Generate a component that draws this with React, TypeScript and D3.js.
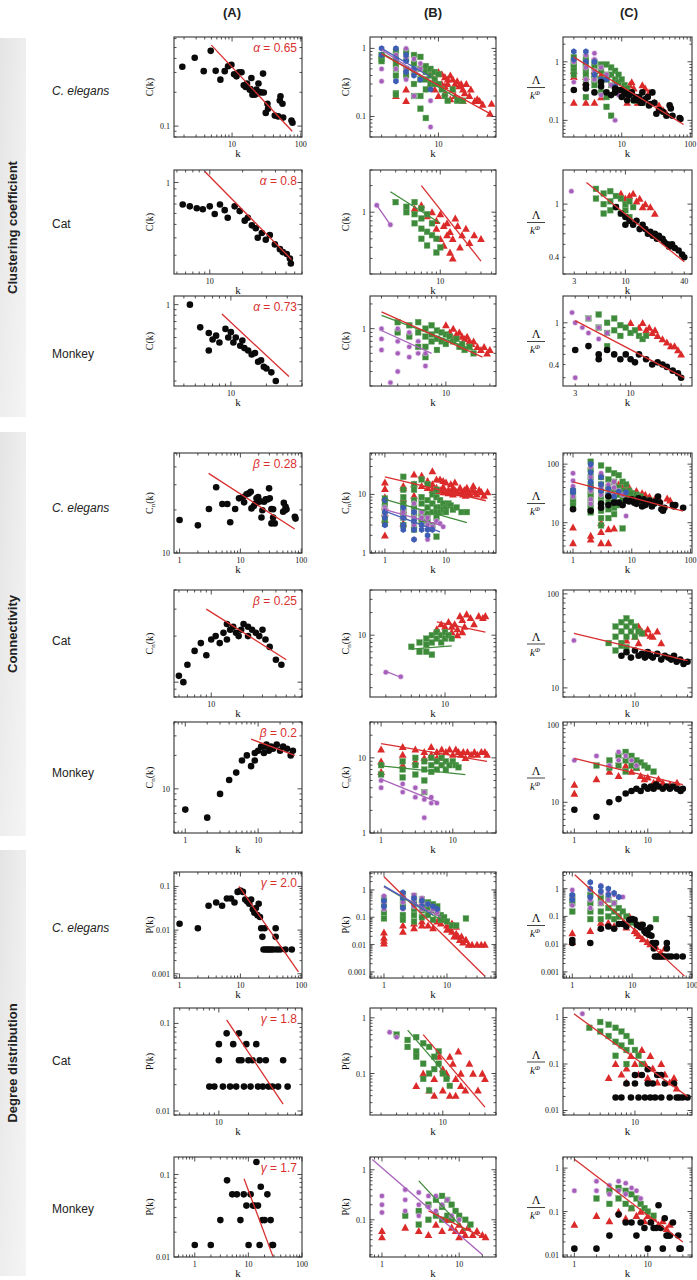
import React from 'react';
import * as d3 from 'd3';

type P = [number, number];

// ---------- Column headers / row labels ----------
const colHeaders = ['(A)', '(B)', '(C)'];
const sectionLabels = ['Clustering coefficient', 'Connectivity', 'Degree distribution'];
const speciesLabels = ['C. elegans', 'Cat', 'Monkey'];

// ---------- Row 1: clustering, C. elegans ----------
const r1A_black: P[] = [[1.89,0.337],[2.86,0.405],[3.87,0.308],[4.89,0.467],[5.78,0.31],[6.76,0.259],[7.82,0.308],[8.75,0.341],[9.78,0.351],[10.7,0.289],[11.6,0.277],[12.6,0.301],[13.7,0.301],[14.8,0.231],[15.8,0.223],[16.5,0.239],[18.1,0.211],[18.5,0.214],[19.1,0.268],[19.8,0.19],[20.2,0.197],[21.4,0.19],[22.6,0.211],[23.1,0.195],[24.2,0.239],[25.3,0.201],[26.7,0.199],[28.2,0.293],[28.9,0.199],[30.9,0.131],[32.7,0.158],[33.4,0.143],[41.8,0.124],[46.8,0.122],[49.4,0.169],[50.6,0.184],[54.1,0.158],[55.3,0.119],[73.1,0.112],[75.7,0.107]];
const r1A_fit: P[] = [[5,0.525],[75,0.09]];

const r1B_red: P[] = [[3,0.2],[4,0.25],[4,0.17],[6,0.55],[7,0.5],[8,0.42],[9,0.35],[9,0.25],[10,0.45],[10,0.2],[11,0.42],[11,0.3],[12,0.28],[12,0.38],[12,0.22],[13,0.3],[13,0.35],[14,0.4],[14,0.18],[15,0.35],[15,0.25],[16,0.3],[16,0.2],[17,0.33],[18,0.28],[18,0.18],[19,0.3],[20,0.25],[20,0.17],[21,0.22],[22,0.3],[24,0.2],[25,0.25],[28,0.17],[30,0.18],[32,0.17],[35,0.15],[43,0.11],[45,0.155],[8,0.3]];
const r1B_green: P[] = [[2,0.8],[2,0.7],[2,0.65],[3,0.9],[3,0.8],[3,0.7],[3,0.6],[3,0.5],[3,0.4],[3,0.22],[3,0.21],[4,0.9],[4,0.7],[4,0.5],[4,0.4],[5,0.8],[5,0.6],[5,0.45],[5,0.3],[5,0.2],[6,0.75],[6,0.5],[6,0.35],[6,0.2],[6,0.13],[7,0.55],[7,0.45],[7,0.35],[7,0.25],[7,0.095],[8,0.5],[8,0.4],[8,0.3],[9,0.45],[9,0.35],[9,0.3],[10,0.42],[10,0.3],[11,0.25],[12,0.2],[13,0.17],[15,0.25],[17,0.17],[20,0.17]];
const r1B_purple: P[] = [[2,0.33],[2,0.5],[3,0.8],[3,0.5],[4,1.0],[4,0.75],[4,0.5],[4,0.35],[5,0.2],[5,0.7],[5,0.45],[6,0.5],[6,0.6],[8,0.17],[8,0.07]];
const r1B_blue: P[] = [[2,1.0],[2,0.8],[3,1.0],[3,0.7],[3,0.33],[4,0.8],[4,0.65],[4,0.45],[5,0.5],[5,0.4],[6,0.35],[8,0.25]];
const r1B_fitRed: P[] = [[2,0.83],[43,0.11]];
const r1B_fitGreen: P[] = [[2,0.86],[21,0.16]];
const r1B_fitPurple: P[] = [[2,0.95],[9,0.3]];
const r1B_fitBlue: P[] = [[2,1.0],[8,0.38]];

const r1C_black: P[] = [[2,0.33],[3,0.4],[3,0.35],[4,0.3],[5,0.45],[5,0.38],[6,0.3],[7,0.27],[8,0.3],[8,0.35],[9,0.33],[10,0.33],[10,0.25],[11,0.3],[12,0.28],[12,0.22],[13,0.27],[14,0.3],[15,0.22],[16,0.25],[17,0.22],[18,0.25],[19,0.2],[20,0.2],[20,0.3],[22,0.23],[24,0.25],[25,0.18],[26,0.19],[28,0.3],[30,0.2],[32,0.13],[35,0.15],[40,0.14],[45,0.12],[50,0.18],[52,0.16],[55,0.12],[70,0.11],[72,0.105]];
const r1C_red: P[] = [[2,0.2],[2,0.55],[2,0.7],[3,0.55],[3,0.45],[3,0.2],[4,0.7],[4,0.2],[5,0.6],[5,0.25],[8,0.4],[9,0.3],[10,0.28],[12,0.3],[12,0.2],[13,0.4],[14,0.45],[15,0.35],[16,0.25],[17,0.2],[18,0.2],[20,0.4],[22,0.35],[25,0.3],[30,0.2],[35,0.18],[40,0.15],[45,0.13]];
const r1C_green: P[] = [[2,1.2],[2,1.0],[2,0.9],[2,0.8],[2,0.7],[2,0.6],[3,1.2],[3,1.0],[3,0.9],[3,0.8],[3,0.7],[3,0.6],[3,0.5],[3,0.25],[4,1.0],[4,0.8],[4,0.6],[4,0.5],[4,0.4],[5,0.9],[5,0.7],[5,0.5],[5,0.3],[6,0.9],[6,0.6],[6,0.5],[6,0.25],[6,0.17],[7,0.8],[7,0.6],[7,0.4],[7,0.12],[8,0.7],[8,0.5],[8,0.3],[9,0.6],[9,0.45],[10,0.5],[11,0.4],[12,0.35],[14,0.3],[15,0.22],[17,0.22],[20,0.2]];
const r1C_blue: P[] = [[2,1.5],[2,1.1],[3,1.5],[3,1.0],[4,1.0],[4,0.6],[5,0.5],[6,0.5],[8,0.38]];
const r1C_purple: P[] = [[2,1.0],[2,0.45],[3,1.3],[3,0.8],[3,0.5],[4,1.4],[4,1.1],[4,0.7],[4,0.5],[5,0.8],[5,0.27],[6,0.6],[7,0.4],[8,0.1],[9,0.27]];
const r1C_fit: P[] = [[2,1.2],[80,0.085]];

// ---------- Row 2: clustering, Cat ----------
const r2A_black: P[] = [[5.65,0.695],[6.56,0.674],[7.6,0.653],[8.63,0.643],[10,0.674],[11.1,0.594],[12.4,0.695],[13.7,0.633],[14.6,0.558],[16.9,0.674],[18.8,0.623],[20.9,0.532],[22.3,0.558],[24.3,0.492],[26.4,0.469],[27.5,0.401],[30,0.434],[32.6,0.388],[35.5,0.42],[39.5,0.359],[43.9,0.332],[46.7,0.316],[50.8,0.306],[54.2,0.284],[55.3,0.262]];
const r2A_fit: P[] = [[9,1.2],[56,0.28]];

const r2B_purple: P[] = [[1.8,1.2],[2.6,0.72]];
const r2B_green: P[] = [[3,1.3],[4,1.0],[4,1.15],[5,1.3],[5,0.95],[5,0.75],[6,1.1],[6,0.85],[6,0.65],[6,0.5],[7,0.95],[7,0.6],[7,0.42],[8,0.75],[8,0.55],[9,0.5],[9,0.35],[10,0.4]];
const r2B_red: P[] = [[5,1.1],[6,1.2],[7,0.9],[8,1.0],[9,0.8],[9,0.65],[10,0.95],[10,0.5],[11,0.7],[11,0.42],[12,0.75],[12,0.55],[13,0.6],[13,0.35],[14,0.5],[14,0.3],[15,0.85],[16,0.7],[17,0.4],[18,0.55],[20,0.65],[22,0.45],[25,0.55],[30,0.5]];
const r2B_fitPurple: P[] = [[1.8,1.2],[2.6,0.72]];
const r2B_fitGreen: P[] = [[2.6,1.7],[10,0.75]];
const r2B_fitRed: P[] = [[6,2.0],[30,0.28]];

const r2C_purple: P[] = [[2.8,1.25]];
const r2C_green: P[] = [[5,1.3],[5,1.1],[6,1.2],[6,1.0],[6,0.85],[7,1.25],[7,1.05],[7,0.9],[8,1.15],[8,0.95],[9,1.1],[9,0.85],[10,1.0],[10,0.9],[11,1.05],[11,0.8],[12,0.95]];
const r2C_red: P[] = [[9,1.2],[10,1.1],[11,1.15],[12,1.2],[13,1.05],[14,1.1],[15,0.95],[16,1.0],[18,0.95],[20,0.85]];
const r2C_black: P[] = [[8,0.95],[9,0.85],[10,0.8],[10,0.7],[11,0.75],[12,0.7],[13,0.75],[14,0.65],[15,0.7],[16,0.65],[17,0.6],[18,0.62],[19,0.58],[20,0.6],[21,0.55],[22,0.58],[24,0.55],[25,0.52],[27,0.5],[28,0.48],[30,0.5],[32,0.47],[35,0.45],[38,0.42],[40,0.4]];
const r2C_fit: P[] = [[4,1.45],[40,0.37]];

// ---------- Row 3: clustering, Monkey ----------
const r3A_black: P[] = [[4.5,1.0],[5.5,0.62],[6.5,0.55],[6.5,0.38],[7,0.48],[7.5,0.52],[8,0.45],[9,0.6],[9.5,0.5],[10,0.56],[10.5,0.45],[11,0.5],[12,0.42],[12.5,0.47],[13,0.4],[14,0.38],[15,0.35],[16,0.36],[17,0.3],[18,0.31],[19,0.27],[20,0.26],[22,0.24],[24,0.2]];
const r3A_fit: P[] = [[8.4,0.82],[31,0.22]];

const r3B_purple: P[] = [[2,1.0],[2,0.75],[2,0.55],[3,1.0],[3,0.7],[3,0.5],[3,0.3],[4,0.9],[4,0.6],[4,0.45],[5,0.7],[5,0.5],[6,0.5],[6,0.35],[2.5,0.22]];
const r3B_green: P[] = [[3,1.2],[3,0.9],[4,1.1],[4,0.8],[5,1.2],[5,0.9],[5,0.6],[6,1.0],[6,0.8],[6,0.6],[6,0.45],[7,1.1],[7,0.85],[7,0.7],[8,0.95],[8,0.75],[8,0.55],[9,0.9],[9,0.7],[10,0.85],[10,0.65],[11,0.8],[12,0.7],[13,0.75],[14,0.6],[15,0.65],[16,0.55],[18,0.6],[20,0.5]];
const r3B_red: P[] = [[10,1.1],[11,0.9],[12,1.0],[12,0.75],[13,0.85],[14,0.9],[15,0.8],[15,0.6],[16,0.75],[17,0.8],[18,0.7],[19,0.65],[20,0.7],[22,0.6],[24,0.55],[26,0.6],[28,0.5],[30,0.55]];
const r3B_fitRed: P[] = [[2,1.6],[25,0.45]];
const r3B_fitGreen: P[] = [[2,1.45],[20,0.55]];
const r3B_fitPurple: P[] = [[2,0.95],[7,0.5]];

const r3C_purple: P[] = [[2.8,1.25],[3,1.0],[3.5,0.9],[4,1.1],[4,0.8],[5,0.9],[5,0.7],[6,0.8],[3,0.3]];
const r3C_green: P[] = [[4,1.1],[5,1.2],[5,0.9],[6,1.0],[6,0.8],[6,0.6],[7,1.1],[7,0.85],[8,0.95],[8,0.75],[9,0.9],[10,0.8],[11,0.85],[12,0.75],[13,0.7],[14,0.75]];
const r3C_red: P[] = [[10,1.0],[12,0.9],[13,1.0],[14,0.85],[15,0.9],[16,0.8],[17,0.85],[18,0.75],[20,0.7],[22,0.65],[24,0.6],[26,0.6],[28,0.55],[30,0.5]];
const r3C_black: P[] = [[3,0.55],[4,0.6],[5,0.5],[5,0.45],[6,0.55],[7,0.5],[8,0.45],[9,0.5],[10,0.45],[11,0.42],[12,0.5],[14,0.45],[16,0.4],[18,0.42],[20,0.4],[22,0.38],[25,0.35],[28,0.33],[30,0.3]];
const r3C_fit: P[] = [[3,1.05],[32,0.3]];

// ---------- Row 4: connectivity, C. elegans ----------
const r4A_black: P[] = [[1,17],[2,15.6],[3.04,20.3],[4,28.8],[5.05,22],[6.1,22],[6.8,16.4],[8.2,20.3],[9.5,24.1],[11,24.6],[11.5,22.6],[12.6,25.7],[13.7,26.1],[14.8,26.8],[15.2,20.5],[16.6,21.3],[17.7,22.2],[18.4,24.1],[19.6,24.6],[20,22.8],[21.3,23],[22.2,17.7],[23,19.9],[24.5,22.8],[26.1,23.7],[27.8,23.7],[29.6,28.3],[30.4,24.1],[32.4,20.3],[34.5,20.2],[32.4,16.1],[34.5,17.7],[36.7,16.1],[50.4,19.4],[51.8,22.4],[54,19.9],[55.3,21],[57.3,20.2],[78.6,17.9],[80.6,17.4]];
const r4A_fit: P[] = [[3,36],[78,14.7]];

const r4B_red: P[] = [[1,16],[1,12.5],[1,9],[1,6.2],[1,4.8],[1,3.7],[1,2],[2,14],[2,13],[2,8.5],[2,5.4],[2,4.3],[2,3.2],[3,22],[3,15],[3,9.5],[4,21],[4,14],[5,17],[5,13],[6,25],[6,15],[6,12],[7,18],[7,13],[7,11.5],[8,18],[8,12],[9,17],[9,13.5],[9,11],[10,16],[10,11],[11,12],[11,10.5],[12,15],[12,11],[13,13],[13,10],[14,12],[14,16],[15,11],[16,10.5],[17,13],[18,11],[19,10],[20,12],[21,9.5],[22,13],[23,11],[25,10],[27,12],[28,14],[30,11],[32,10],[35,12],[38,11],[42,9.5],[48,11]];
const r4B_green: P[] = [[1,8.5],[1,7],[1,6],[1,5.5],[1,4.5],[1,3.8],[1,3.2],[2,20],[2,12],[2,9],[2,7],[2,6],[2,5],[2,4],[2,3],[3,15],[3,12],[3,8],[3,6],[3,5],[3,4],[3,3],[3,2.5],[4,18],[4,9],[4,7],[4,5],[4,4],[4,3.5],[5,15],[5,8],[5,6],[5,4.5],[5,3.5],[6,10],[6,7],[6,5],[6,3],[7,12],[7,9],[7,6],[7,5],[7,4],[7,1.9],[8,8],[8,6],[8,5],[9,7],[9,5.5],[10,6],[10,5],[11,7],[12,6.5],[13,5.5],[15,6],[18,5],[22,5]];
const r4B_purple: P[] = [[1,6],[1,5.5],[1,4.5],[2,6],[2,5],[2,4],[3,7],[3,5],[3,4],[3,3],[3,1.7],[4,5],[4,4],[4,3],[5,4],[5,3],[5,1.7],[6,2.8],[7,3.5],[8,3.2],[9,2.8]];
const r4B_blue: P[] = [[1,8],[1,5],[1,4],[1,3],[2,6],[2,4],[2,3],[2,2.5],[3,5],[3,3.5],[3,2.5],[3,1.7],[4,3],[4,2.5],[5,2.5],[5,2],[6,2.5]];
const r4B_fitRed: P[] = [[1,20],[45,7.8]];
const r4B_fitGreen: P[] = [[1,8.2],[22,3.3]];
const r4B_fitPurple: P[] = [[1,5.5],[9,2.9]];
const r4B_fitBlue: P[] = [[1,5.2],[8,2.3]];

const r4C_black: P[] = [[1,17],[2,16],[3,21],[3,18],[4,28],[4,20],[5,22],[6,22],[7,20],[8,24],[9,23],[10,25],[11,22],[12,21],[13,26],[14,24],[15,19],[16,25],[17,20],[18,22],[20,24],[22,19],[24,21],[25,23],[28,28],[30,22],[32,17],[34,16],[36,18],[50,20],[52,19],[55,20],[75,18]];
const r4C_red: P[] = [[1,8.3],[1,4.5],[2,6],[2,5.2],[3,10],[3,7],[3,4.5],[4,7.8],[4,4.5],[5,8],[6,45],[6,35],[7,40],[8,38],[8,32],[9,40],[10,30],[12,35],[15,32],[17,30],[20,28],[25,26],[30,24],[40,26],[45,24]];
const r4C_green: P[] = [[1,35],[1,30],[1,25],[1,22],[1,20],[2,110],[2,80],[2,60],[2,45],[2,35],[2,28],[2,22],[2,18],[2,15],[3,95],[3,60],[3,45],[3,35],[3,28],[3,22],[3,16],[3,12],[3,9],[4,80],[4,55],[4,40],[4,30],[4,22],[4,17],[4,12],[5,70],[5,50],[5,35],[5,25],[5,18],[5,14],[6,65],[6,40],[6,30],[6,20],[7,50],[7,35],[7,25],[7,8],[8,45],[8,30],[9,35],[10,32],[12,30],[14,28],[16,25],[20,24]];
const r4C_blue: P[] = [[1,36],[1,33],[2,100],[2,72],[2,50],[2,40],[3,60],[3,45],[3,35],[4,38],[4,30],[5,28],[6,34],[8,33]];
const r4C_purple: P[] = [[1,70],[1,52],[1,42],[1,28],[2,90],[2,60],[2,35],[2,25],[2,21],[3,70],[3,40],[3,30],[3,20],[4,45],[4,30],[4,20],[5,50],[5,40],[5,30],[6,35],[7,30],[8,13]];
const r4C_fit: P[] = [[1,50],[75,15.7]];

// ---------- Row 5: connectivity, Cat ----------
const r5A_black: P[] = [[5,11],[5.5,10],[6,13],[7,16],[8,18],[9,15],[10,19],[11,20],[12,18],[13,21],[14,24],[14,19],[15,22],[16,23],[17,21],[18,20],[19,22],[20,24],[22,23],[22,20],[24,22],[26,21],[28,20],[30,22],[32,19],[35,17],[40,14],[45,13]];
const r5A_fit: P[] = [[9,30],[50,14]];

const r5B_purple: P[] = [[2,3.2],[3,2.8]];
const r5B_green: P[] = [[4,7],[5,8],[5,6],[6,9],[6,7.5],[6,6],[7,10],[7,8],[7,5.5],[8,11],[8,9],[9,10],[9,8],[10,11],[10,9],[11,10],[12,9]];
const r5B_red: P[] = [[8,12],[9,14],[10,13],[10,11],[11,15],[12,13],[12,11],[13,14],[14,12],[14,10],[15,18],[16,16],[16,11],[17,13],[18,19],[20,17],[22,14],[25,18],[28,17],[30,18]];
const r5B_fitPurple: P[] = [[2,3.3],[3,2.75]];
const r5B_fitGreen: P[] = [[4,6.5],[12,7.2]];
const r5B_fitRed: P[] = [[8,15],[30,11]];

const r5C_purple: P[] = [[2,32]];
const r5C_green: P[] = [[5,30],[6,45],[6,35],[6,25],[7,50],[7,40],[7,30],[7,28],[8,55],[8,45],[8,35],[8,27],[9,50],[9,40],[10,45],[10,35],[11,40],[12,38]];
const r5C_red: P[] = [[8,32],[10,35],[11,45],[11,30],[12,40],[13,38],[14,42],[15,36],[16,35],[18,40],[20,30]];
const r5C_black: P[] = [[7,22],[8,24],[9,21],[10,25],[11,22],[12,23],[13,21],[14,24],[15,22],[16,21],[18,23],[20,20],[22,22],[24,21],[26,20],[28,22],[30,19],[33,20],[36,18],[40,19]];
const r5C_fit: P[] = [[2,38],[40,19.5]];

// ---------- Row 6: connectivity, Monkey ----------
const r6A_black: P[] = [[1,6.5],[2,5.5],[3,9],[4,12],[5,14],[6,18],[7,20],[8,16],[9,21],[9,18],[10,22],[11,24],[12,21],[12,24],[13,25],[14,22],[15,24],[16,23],[18,25],[20,22],[22,24],[25,23],[28,20],[30,22]];
const r6A_fit: P[] = [[8,28],[32,20]];

const r6B_red: P[] = [[1,13],[1,9],[1,6.5],[2,14],[2,11],[2,8],[3,13],[3,9],[4,12],[4,10],[5,14],[5,11],[6,12],[6,10],[7,13],[7,10],[8,12],[9,13],[10,11],[11,13],[12,12],[13,11],[14,12],[15,10],[16,12],[18,11],[20,12],[22,11],[25,12],[28,12],[30,11]];
const r6B_green: P[] = [[1,8],[1,6],[2,9],[2,7],[2,5.5],[3,10],[3,8],[3,6],[4,9],[4,7],[4,5],[4,3.5],[5,10],[5,8],[5,6.5],[6,9],[6,7],[7,10],[7,8],[8,9],[8,7],[9,8],[10,9],[11,8],[12,7.5]];
const r6B_purple: P[] = [[1,5],[1,4],[2,4.5],[2,3.5],[3,4],[3,3],[4,3.5],[4,2.8],[4,1.6],[5,3],[5,2.5],[6,2.5]];
const r6B_fitRed: P[] = [[1,15.5],[30,9]];
const r6B_fitGreen: P[] = [[1,7.8],[15,6]];
const r6B_fitPurple: P[] = [[1,5.2],[6,2.6]];

const r6C_black: P[] = [[1,8],[2,6.5],[3,10],[4,11],[5,13],[6,14],[7,15],[8,14],[9,16],[10,15],[11,16],[12,15],[13,17],[14,16],[16,15],[18,16],[20,15],[22,16],[25,15],[28,14],[30,15]];
const r6C_red: P[] = [[1,13],[1,17],[2,20],[3,25],[4,22],[5,30],[6,25],[7,28],[8,22],[9,20],[10,21],[12,18],[14,20],[16,18],[20,17],[25,18]];
const r6C_green: P[] = [[2,30],[3,28],[3,35],[4,40],[4,30],[5,45],[5,35],[5,25],[6,40],[6,30],[7,35],[7,28],[8,33],[9,30],[10,28],[12,25]];
const r6C_purple: P[] = [[1,35],[2,40],[3,30],[4,45],[4,35],[5,40],[6,35],[7,30]];
const r6C_fit: P[] = [[1,37],[30,17]];

// ---------- Row 7: degree distribution, C. elegans ----------
const r7A_black: P[] = [[1,0.014],[2,0.011],[3,0.036],[4,0.043],[5,0.036],[6,0.053],[7,0.053],[8,0.043],[9,0.075],[10,0.08],[11,0.075],[12,0.05],[13,0.045],[14,0.04],[15,0.05],[16,0.03],[17,0.025],[18,0.032],[19,0.022],[20,0.04],[21,0.02],[22,0.011],[23,0.007],[25,0.011],[24,0.0036],[26,0.0036],[28,0.0036],[30,0.0036],[32,0.0036],[35,0.0036],[38,0.011],[38,0.007],[40,0.0036],[45,0.0036],[55,0.0036],[70,0.0036]];
const r7A_fit: P[] = [[9.5,0.1],[90,0.0011]];

const r7B_red: P[] = [[1,0.028],[1,0.018],[1,0.014],[1,0.011],[2,0.05],[2,0.03],[3,0.06],[3,0.04],[4,0.07],[4,0.05],[5,0.05],[6,0.04],[7,0.07],[8,0.1],[8,0.06],[9,0.08],[10,0.05],[10,0.035],[11,0.04],[12,0.06],[12,0.03],[13,0.02],[14,0.045],[14,0.025],[15,0.02],[16,0.015],[17,0.02],[18,0.012],[20,0.015],[22,0.01],[25,0.01],[30,0.01],[35,0.01],[40,0.01]];
const r7B_green: P[] = [[1,0.5],[1,0.3],[1,0.15],[1,0.09],[2,0.7],[2,0.4],[2,0.25],[2,0.12],[2,0.08],[3,0.6],[3,0.35],[3,0.2],[3,0.12],[3,0.07],[4,0.45],[4,0.3],[4,0.18],[4,0.1],[5,0.35],[5,0.22],[5,0.12],[6,0.3],[6,0.18],[6,0.08],[7,0.25],[7,0.15],[8,0.12],[8,0.08],[9,0.1],[10,0.07],[12,0.05],[14,0.05],[20,0.09]];
const r7B_purple: P[] = [[1,0.6],[1,0.35],[1,0.2],[2,0.6],[2,0.35],[2,0.2],[3,0.65],[3,0.45],[3,0.25],[4,0.5],[4,0.35],[4,0.2],[5,0.3],[6,0.2],[7,0.15]];
const r7B_blue: P[] = [[1,0.4],[1,0.25],[2,0.8],[2,0.5],[2,0.22],[3,0.5],[3,0.3],[4,0.4],[4,0.25],[5,0.3],[6,0.25],[7,0.2]];
const r7B_fitRed: P[] = [[1,3.0],[40,0.0007]];
const r7B_fitGreen: P[] = [[1,1.3],[10,0.06]];
const r7B_fitPurple: P[] = [[1,1.3],[8,0.1]];
const r7B_fitBlue: P[] = [[1,1.4],[6,0.12]];

const r7C_black: P[] = [[1,0.014],[1,0.011],[2,0.011],[3,0.036],[4,0.043],[5,0.036],[6,0.053],[7,0.053],[8,0.043],[9,0.075],[10,0.08],[11,0.075],[12,0.05],[13,0.045],[14,0.04],[15,0.05],[16,0.03],[17,0.025],[18,0.032],[19,0.022],[20,0.04],[21,0.02],[22,0.011],[23,0.007],[25,0.011],[24,0.0036],[26,0.0036],[28,0.0036],[30,0.0036],[32,0.0036],[35,0.0036],[38,0.011],[38,0.007],[40,0.0036],[45,0.0036],[55,0.0036],[70,0.0036]];
const r7C_red: P[] = [[1,0.025],[1,0.012],[2,0.03],[3,0.06],[3,0.04],[4,0.06],[5,0.045],[6,0.1],[7,0.06],[8,0.04],[9,0.1],[10,0.07],[11,0.03],[12,0.025],[13,0.02],[14,0.05],[15,0.015],[18,0.012],[20,0.01],[25,0.008],[30,0.005],[35,0.007]];
const r7C_green: P[] = [[1,0.5],[1,0.3],[1,0.15],[2,0.6],[2,0.3],[2,0.15],[2,0.08],[3,0.5],[3,0.3],[3,0.15],[3,0.08],[4,0.4],[4,0.2],[4,0.1],[5,0.3],[5,0.15],[5,0.08],[6,0.2],[6,0.1],[7,0.15],[8,0.1],[9,0.08],[10,0.06],[12,0.05],[25,0.08]];
const r7C_purple: P[] = [[1,0.9],[1,0.5],[1,0.25],[2,0.9],[2,0.4],[2,0.2],[3,1.3],[3,0.7],[3,0.3],[4,0.7],[4,0.4],[5,0.6],[5,0.3],[6,0.5],[7,0.5]];
const r7C_blue: P[] = [[1,0.6],[1,0.4],[2,1.7],[2,1.0],[2,0.5],[3,1.2],[3,0.8],[4,1.0],[4,0.6],[5,0.7],[6,0.5]];
const r7C_fit: P[] = [[1.1,3.2],[75,0.0007]];

// ---------- Row 8: degree distribution, Cat ----------
const r8A_black: P[] = [[8,0.019],[9,0.019],[10,0.038],[10,0.058],[11,0.019],[12,0.077],[13,0.019],[14,0.058],[15,0.019],[16,0.077],[16,0.038],[17,0.038],[18,0.019],[19,0.058],[20,0.038],[21,0.019],[22,0.038],[24,0.058],[25,0.019],[26,0.038],[28,0.019],[30,0.038],[32,0.019],[35,0.019],[40,0.019],[45,0.038],[50,0.019]];
const r8A_fit: P[] = [[12,0.11],[45,0.012]];

const r8B_purple: P[] = [[2.5,0.55],[3,0.45]];
const r8B_green: P[] = [[3,0.5],[4,0.4],[4,0.3],[5,0.45],[5,0.25],[5,0.2],[6,0.35],[6,0.15],[6,0.08],[7,0.3],[7,0.1],[7,0.05],[8,0.2],[8,0.12],[9,0.25],[9,0.15],[10,0.1],[11,0.08],[12,0.06]];
const r8B_red: P[] = [[5,0.06],[6,0.1],[7,0.05],[8,0.08],[8,0.04],[9,0.2],[10,0.12],[10,0.05],[11,0.1],[12,0.2],[12,0.04],[13,0.15],[14,0.08],[14,0.04],[15,0.25],[16,0.1],[16,0.06],[18,0.05],[20,0.15],[22,0.1],[25,0.05],[28,0.1],[30,0.08]];
const r8B_fitGreen: P[] = [[4,0.6],[12,0.08]];
const r8B_fitRed: P[] = [[6,0.5],[30,0.025]];

const r8C_purple: P[] = [[2.5,1.2]];
const r8C_black: P[] = [[6,0.019],[7,0.019],[8,0.038],[9,0.019],[10,0.038],[10,0.058],[11,0.019],[12,0.058],[13,0.019],[14,0.038],[14,0.077],[15,0.019],[16,0.038],[17,0.019],[18,0.058],[20,0.019],[20,0.058],[22,0.038],[25,0.019],[28,0.038],[30,0.019],[32,0.019],[35,0.019],[40,0.019]];
const r8C_green: P[] = [[3,0.6],[4,0.8],[4,0.5],[5,0.7],[5,0.4],[6,0.6],[6,0.3],[6,0.15],[7,0.5],[7,0.25],[8,0.4],[8,0.2],[8,0.1],[9,0.3],[10,0.2],[11,0.15],[12,0.1]];
const r8C_red: P[] = [[5,0.05],[6,0.1],[7,0.06],[8,0.08],[8,0.04],[9,0.15],[10,0.1],[11,0.06],[12,0.2],[13,0.1],[14,0.05],[15,0.15],[16,0.08],[18,0.04],[20,0.1],[22,0.06],[25,0.04],[28,0.05],[30,0.03]];
const r8C_fit: P[] = [[2,1.2],[40,0.02]];

// ---------- Row 9: degree distribution, Monkey ----------
const r9A_black: P[] = [[1,0.014],[1.99,0.014],[3,0.028],[4,0.085],[5,0.0575],[6.1,0.0575],[7.1,0.028],[8.2,0.0575],[9.2,0.042],[10.1,0.014],[11,0.0575],[12.2,0.042],[13,0.042],[14.1,0.142],[15.1,0.042],[16.2,0.014],[17,0.071],[18.3,0.028],[20.1,0.028],[22.6,0.0575],[26,0.028],[28,0.014],[28.8,0.014]];
const r9A_fit: P[] = [[8.3,0.089],[28.8,0.0101]];

const r9B_purple: P[] = [[1,0.3],[1,0.2],[1,0.14],[2,0.4],[2,0.25],[2,0.15],[3,0.35],[3,0.2],[3,0.12],[4,0.3],[4,0.18],[5,0.3],[5,0.15],[6,0.2],[7,0.25],[8,0.12],[10,0.1]];
const r9B_green: P[] = [[2,0.12],[3,0.15],[3,0.08],[4,0.2],[4,0.1],[5,0.25],[5,0.12],[6,0.3],[6,0.18],[6,0.1],[7,0.25],[7,0.12],[8,0.2],[8,0.1],[9,0.15],[10,0.12],[12,0.1],[14,0.08]];
const r9B_red: P[] = [[1,0.06],[1,0.045],[2,0.07],[3,0.06],[4,0.05],[5,0.08],[6,0.06],[7,0.1],[8,0.07],[9,0.06],[10,0.08],[10,0.045],[11,0.06],[12,0.05],[13,0.07],[15,0.05],[17,0.06],[20,0.05],[22,0.045]];
const r9B_fitPurple: P[] = [[0.75,1.6],[20,0.02]];
const r9B_fitGreen: P[] = [[3,0.6],[12,0.06]];
const r9B_fitRed: P[] = [[4,0.15],[20,0.045]];

const r9C_black: P[] = [[1,0.014],[2,0.014],[3,0.028],[4,0.085],[5,0.056],[6,0.056],[7,0.028],[8,0.056],[9,0.042],[10,0.014],[11,0.056],[12,0.042],[13,0.042],[14,0.14],[15,0.042],[16,0.014],[17,0.07],[18,0.028],[19,0.028],[20,0.028],[22,0.056],[26,0.028],[27,0.014],[28,0.014]];
const r9C_purple: P[] = [[1,0.3],[2,0.5],[2,0.3],[3,0.4],[3,0.25],[4,0.5],[4,0.3],[5,0.45],[5,0.25],[6,0.35],[7,0.3],[8,0.2]];
const r9C_green: P[] = [[2,0.2],[3,0.3],[3,0.15],[4,0.35],[4,0.2],[5,0.3],[5,0.15],[6,0.25],[6,0.12],[7,0.2],[8,0.15],[9,0.12],[10,0.1],[12,0.08]];
const r9C_red: P[] = [[1,0.05],[2,0.08],[3,0.06],[4,0.1],[5,0.07],[6,0.12],[7,0.08],[8,0.1],[9,0.06],[10,0.08],[11,0.06],[12,0.07],[14,0.05],[16,0.06],[18,0.04],[20,0.05]];
const r9C_fit: P[] = [[1,1.6],[30,0.02]];

// ---------- styling ----------
const COLORS = {
  black: '#0a0a0a',
  red: '#dc2a2a',
  green: '#3e8a3b',
  blue: '#3c5db3',
  purple: '#a55fba',
};
const LINE = {
  red: '#d92f2f',
  green: '#3f8c3b',
  blue: '#4a62b8',
  purple: '#a862bb',
};

type Kind = 'black' | 'red' | 'green' | 'blue' | 'purple';
type Series = { kind: Kind; pts: P[] };
type Fit = { color: keyof typeof LINE; pts: P[] };
type Spec = {
  xd: [number, number];
  yd: [number, number];
  xl: number[];
  yl: number[];
  ylab: 'C' | 'Cn' | 'P' | 'L';
  note?: string;
  series: Series[];
  fits: Fit[];
};

const panels: Spec[][] = [
  [
    { xd: [1.43, 104], yd: [0.08, 0.62], xl: [10, 100], yl: [0.1], ylab: 'C', note: 'α = 0.65',
      series: [{ kind: 'black', pts: r1A_black }], fits: [{ color: 'red', pts: r1A_fit }] },
    { xd: [1.44, 51], yd: [0.05, 1.47], xl: [10], yl: [0.1, 1], ylab: 'C',
      series: [{ kind: 'red', pts: r1B_red }, { kind: 'green', pts: r1B_green }, { kind: 'purple', pts: r1B_purple }, { kind: 'blue', pts: r1B_blue }],
      fits: [{ color: 'blue', pts: r1B_fitBlue }, { color: 'purple', pts: r1B_fitPurple }, { color: 'green', pts: r1B_fitGreen }, { color: 'red', pts: r1B_fitRed }] },
    { xd: [1.39, 106], yd: [0.052, 2.65], xl: [10, 100], yl: [0.1, 1], ylab: 'L',
      series: [{ kind: 'red', pts: r1C_red }, { kind: 'green', pts: r1C_green }, { kind: 'purple', pts: r1C_purple }, { kind: 'blue', pts: r1C_blue }, { kind: 'black', pts: r1C_black }],
      fits: [{ color: 'red', pts: r1C_fit }] },
  ],
  [
    { xd: [4.7, 70], yd: [0.22, 1.23], xl: [10], yl: [1], ylab: 'C', note: 'α = 0.8',
      series: [{ kind: 'black', pts: r2A_black }], fits: [{ color: 'red', pts: r2A_fit }] },
    { xd: [1.5, 45], yd: [0.2, 3], xl: [10], yl: [1], ylab: 'C',
      series: [{ kind: 'red', pts: r2B_red }, { kind: 'green', pts: r2B_green }, { kind: 'purple', pts: r2B_purple }],
      fits: [{ color: 'purple', pts: r2B_fitPurple }, { color: 'green', pts: r2B_fitGreen }, { color: 'red', pts: r2B_fitRed }] },
    { xd: [2.3, 48], yd: [0.3, 1.8], xl: [3, 10, 40], yl: [0.4, 1], ylab: 'L',
      series: [{ kind: 'red', pts: r2C_red }, { kind: 'green', pts: r2C_green }, { kind: 'purple', pts: r2C_purple }, { kind: 'black', pts: r2C_black }],
      fits: [{ color: 'red', pts: r2C_fit }] },
  ],
  [
    { xd: [3.3, 40], yd: [0.18, 1.2], xl: [10], yl: [1], ylab: 'C', note: 'α = 0.73',
      series: [{ kind: 'black', pts: r3A_black }], fits: [{ color: 'red', pts: r3A_fit }] },
    { xd: [1.5, 35], yd: [0.2, 2.5], xl: [10], yl: [1], ylab: 'C',
      series: [{ kind: 'red', pts: r3B_red }, { kind: 'green', pts: r3B_green }, { kind: 'purple', pts: r3B_purple }],
      fits: [{ color: 'purple', pts: r3B_fitPurple }, { color: 'green', pts: r3B_fitGreen }, { color: 'red', pts: r3B_fitRed }] },
    { xd: [2.3, 38], yd: [0.25, 1.8], xl: [3, 10], yl: [0.4, 1], ylab: 'L',
      series: [{ kind: 'red', pts: r3C_red }, { kind: 'green', pts: r3C_green }, { kind: 'purple', pts: r3C_purple }, { kind: 'black', pts: r3C_black }],
      fits: [{ color: 'red', pts: r3C_fit }] },
  ],
  [
    { xd: [0.81, 103], yd: [10, 50], xl: [1, 10, 100], yl: [10], ylab: 'Cn', note: 'β = 0.28',
      series: [{ kind: 'black', pts: r4A_black }], fits: [{ color: 'red', pts: r4A_fit }] },
    { xd: [0.57, 66], yd: [1, 51], xl: [1, 10], yl: [1, 10], ylab: 'Cn',
      series: [{ kind: 'red', pts: r4B_red }, { kind: 'green', pts: r4B_green }, { kind: 'purple', pts: r4B_purple }, { kind: 'blue', pts: r4B_blue }],
      fits: [{ color: 'red', pts: r4B_fitRed }, { color: 'green', pts: r4B_fitGreen }, { color: 'purple', pts: r4B_fitPurple }, { color: 'blue', pts: r4B_fitBlue }] },
    { xd: [0.675, 106], yd: [3.04, 155], xl: [1, 10, 100], yl: [10, 100], ylab: 'L',
      series: [{ kind: 'red', pts: r4C_red }, { kind: 'green', pts: r4C_green }, { kind: 'purple', pts: r4C_purple }, { kind: 'blue', pts: r4C_blue }, { kind: 'black', pts: r4C_black }],
      fits: [{ color: 'red', pts: r4C_fit }] },
  ],
  [
    { xd: [4.5, 70], yd: [8, 40], xl: [10], yl: [], ylab: 'Cn', note: 'β = 0.25',
      series: [{ kind: 'black', pts: r5A_black }], fits: [{ color: 'red', pts: r5A_fit }] },
    { xd: [1.3, 40], yd: [1.5, 40], xl: [10], yl: [10], ylab: 'Cn',
      series: [{ kind: 'red', pts: r5B_red }, { kind: 'green', pts: r5B_green }, { kind: 'purple', pts: r5B_purple }],
      fits: [{ color: 'red', pts: r5B_fitRed }, { color: 'green', pts: r5B_fitGreen }, { color: 'purple', pts: r5B_fitPurple }] },
    { xd: [1.5, 45], yd: [8, 110], xl: [10], yl: [10, 100], ylab: 'L',
      series: [{ kind: 'red', pts: r5C_red }, { kind: 'green', pts: r5C_green }, { kind: 'purple', pts: r5C_purple }, { kind: 'black', pts: r5C_black }],
      fits: [{ color: 'red', pts: r5C_fit }] },
  ],
  [
    { xd: [0.7, 40], yd: [4, 40], xl: [1, 10], yl: [10], ylab: 'Cn', note: 'β = 0.2',
      series: [{ kind: 'black', pts: r6A_black }], fits: [{ color: 'red', pts: r6A_fit }] },
    { xd: [0.7, 40], yd: [1, 30], xl: [1, 10], yl: [1, 10], ylab: 'Cn',
      series: [{ kind: 'red', pts: r6B_red }, { kind: 'green', pts: r6B_green }, { kind: 'purple', pts: r6B_purple }],
      fits: [{ color: 'red', pts: r6B_fitRed }, { color: 'green', pts: r6B_fitGreen }, { color: 'purple', pts: r6B_fitPurple }] },
    { xd: [0.7, 40], yd: [4, 110], xl: [1, 10], yl: [10, 100], ylab: 'L',
      series: [{ kind: 'red', pts: r6C_red }, { kind: 'green', pts: r6C_green }, { kind: 'purple', pts: r6C_purple }, { kind: 'black', pts: r6C_black }],
      fits: [{ color: 'red', pts: r6C_fit }] },
  ],
  [
    { xd: [0.81, 103], yd: [0.0008, 0.214], xl: [1, 10, 100], yl: [0.001, 0.01, 0.1], ylab: 'P', note: 'γ = 2.0',
      series: [{ kind: 'black', pts: r7A_black }], fits: [{ color: 'red', pts: r7A_fit }] },
    { xd: [0.6, 60], yd: [0.0006, 4.5], xl: [1, 10], yl: [0.001, 0.01, 0.1, 1], ylab: 'P',
      series: [{ kind: 'red', pts: r7B_red }, { kind: 'green', pts: r7B_green }, { kind: 'purple', pts: r7B_purple }, { kind: 'blue', pts: r7B_blue }],
      fits: [{ color: 'red', pts: r7B_fitRed }, { color: 'green', pts: r7B_fitGreen }, { color: 'purple', pts: r7B_fitPurple }, { color: 'blue', pts: r7B_fitBlue }] },
    { xd: [0.7, 100], yd: [0.0006, 4], xl: [1, 10, 100], yl: [0.001, 0.01, 0.1, 1], ylab: 'L',
      series: [{ kind: 'red', pts: r7C_red }, { kind: 'green', pts: r7C_green }, { kind: 'purple', pts: r7C_purple }, { kind: 'blue', pts: r7C_blue }, { kind: 'black', pts: r7C_black }],
      fits: [{ color: 'red', pts: r7C_fit }] },
  ],
  [
    { xd: [3.5, 70], yd: [0.009, 0.15], xl: [10], yl: [0.01, 0.1], ylab: 'P', note: 'γ = 1.8',
      series: [{ kind: 'black', pts: r8A_black }], fits: [{ color: 'red', pts: r8A_fit }] },
    { xd: [1.5, 40], yd: [0.018, 1.5], xl: [10], yl: [0.1, 1], ylab: 'P',
      series: [{ kind: 'red', pts: r8B_red }, { kind: 'green', pts: r8B_green }, { kind: 'purple', pts: r8B_purple }],
      fits: [{ color: 'green', pts: r8B_fitGreen }, { color: 'red', pts: r8B_fitRed }] },
    { xd: [1.5, 45], yd: [0.008, 1.6], xl: [10], yl: [0.01, 0.1, 1], ylab: 'L',
      series: [{ kind: 'red', pts: r8C_red }, { kind: 'green', pts: r8C_green }, { kind: 'purple', pts: r8C_purple }, { kind: 'black', pts: r8C_black }],
      fits: [{ color: 'red', pts: r8C_fit }] },
  ],
  [
    { xd: [0.41, 100], yd: [0.01, 0.163], xl: [1, 10, 100], yl: [0.01, 0.1], ylab: 'P', note: 'γ = 1.7',
      series: [{ kind: 'black', pts: r9A_black }], fits: [{ color: 'red', pts: r9A_fit }] },
    { xd: [0.7, 30], yd: [0.018, 1.8], xl: [1, 10], yl: [0.1, 1], ylab: 'P',
      series: [{ kind: 'red', pts: r9B_red }, { kind: 'green', pts: r9B_green }, { kind: 'purple', pts: r9B_purple }],
      fits: [{ color: 'purple', pts: r9B_fitPurple }, { color: 'green', pts: r9B_fitGreen }, { color: 'red', pts: r9B_fitRed }] },
    { xd: [0.7, 40], yd: [0.009, 1.8], xl: [1, 10], yl: [0.01, 0.1, 1], ylab: 'L',
      series: [{ kind: 'red', pts: r9C_red }, { kind: 'green', pts: r9C_green }, { kind: 'purple', pts: r9C_purple }, { kind: 'black', pts: r9C_black }],
      fits: [{ color: 'red', pts: r9C_fit }] },
  ],
];

// ---------- layout ----------
const W = 697;
const H = 1280;
const COLS: [number, number][] = [[174, 302], [370, 496], [563, 692]];
const ROWS: [number, number][] = [[37, 137], [170, 274], [296, 386], [453, 553], [590, 697], [722, 833], [872, 978], [1008, 1115], [1157, 1257]];
const COL_CENTER = [232, 433, 629];
const SECTIONS: [number, number][] = [[38, 417], [432, 836], [850, 1276]];
const SPECIES_Y = [95, 228, 358, 512, 645, 777, 932, 1065, 1213];

const SERIF = '"Liberation Serif", "Times New Roman", serif';
const SANS = '"Liberation Sans", Arial, Helvetica, sans-serif';

function logTicks(lo: number, hi: number) {
  const out: { v: number; major: boolean }[] = [];
  for (let e = Math.floor(Math.log10(lo)); e <= Math.ceil(Math.log10(hi)); e++) {
    for (let m = 1; m <= 9; m++) {
      const v = m * Math.pow(10, e);
      if (v >= lo * 0.999 && v <= hi * 1.001) out.push({ v, major: m === 1 });
    }
  }
  return out;
}

function fmt(v: number) {
  return String(parseFloat(v.toPrecision(3)));
}

function Marker({ kind, x, y }: { kind: Kind; x: number; y: number }) {
  const c = COLORS[kind];
  if (kind === 'black') return <circle cx={x} cy={y} r={3.3} fill={c} />;
  if (kind === 'red') {
    const s = 3.9;
    return <path d={`M${x},${y - s}L${x + s},${y + s * 0.8}L${x - s},${y + s * 0.8}Z`} fill={c} />;
  }
  if (kind === 'green') return <rect x={x - 2.9} y={y - 2.9} width={5.8} height={5.8} fill={c} stroke="#6aa866" strokeWidth={0.4} />;
  if (kind === 'blue') {
    const r = 3.2;
    const pts = d3.range(6).map((i) => {
      const a = (Math.PI / 3) * i + Math.PI / 6;
      return `${x + r * Math.cos(a)},${y + r * Math.sin(a)}`;
    });
    return <polygon points={pts.join(' ')} fill={c} />;
  }
  return (
    <g>
      <circle cx={x} cy={y} r={3.0} fill="#d9b6e2" opacity={0.7} />
      <circle cx={x} cy={y} r={2.2} fill={c} />
    </g>
  );
}

function YLabel({ kind, x, y }: { kind: Spec['ylab']; x: number; y: number }) {
  if (kind === 'L') {
    return (
      <g fontFamily={SERIF} fill="#111">
        <text x={x} y={y - 3} fontSize={12} textAnchor="middle">Λ</text>
        <line x1={x - 9} x2={x + 9} y1={y + 0.5} y2={y + 0.5} stroke="#111" strokeWidth={0.8} />
        <text x={x - 1} y={y + 12} fontSize={11} textAnchor="middle" fontStyle="italic">
          k<tspan fontSize={7} dy={-4}>Φ</tspan>
        </text>
      </g>
    );
  }
  return (
    <text transform={`translate(${x},${y}) rotate(-90)`} textAnchor="middle" fontFamily={SERIF} fontSize={10} fill="#111">
      {kind === 'C' && 'C(k)'}
      {kind === 'P' && 'P(k)'}
      {kind === 'Cn' && (
        <>
          C<tspan fontSize={7} dy={2}>n</tspan>
          <tspan dy={-2}>(k)</tspan>
        </>
      )}
    </text>
  );
}

function Panel({ spec, x0, x1, y0, y1 }: { spec: Spec; x0: number; x1: number; y0: number; y1: number }) {
  const xs = d3.scaleLog().domain(spec.xd).range([x0, x1]);
  const ys = d3.scaleLog().domain(spec.yd).range([y1, y0]);
  const xt = logTicks(spec.xd[0], spec.xd[1]);
  const yt = logTicks(spec.yd[0], spec.yd[1]);
  const line = d3.line<P>().x((d) => xs(d[0])).y((d) => ys(d[1]));
  const clipId = `clip-${x0}-${y0}`;
  const order: Kind[] = ['red', 'green', 'purple', 'blue', 'black'];
  return (
    <g>
      <defs>
        <clipPath id={clipId}>
          <rect x={x0} y={y0} width={x1 - x0} height={y1 - y0} />
        </clipPath>
      </defs>
      <g clipPath={`url(#${clipId})`}>
        {order.map((k) =>
          spec.series
            .filter((s) => s.kind === k)
            .map((s, si) =>
              s.pts.map((p, i) => <Marker key={`${k}-${si}-${i}`} kind={k} x={xs(p[0])} y={ys(p[1])} />)
            )
        )}
        {spec.fits.map((f, i) => (
          <path key={i} d={line(f.pts) || ''} fill="none" stroke={LINE[f.color]} strokeWidth={1.3} />
        ))}
      </g>
      {xt.map((t, i) => {
        const x = xs(t.v);
        const l = t.major ? 4.5 : 2.5;
        return (
          <g key={`xt${i}`} stroke="#222" strokeWidth={0.8}>
            <line x1={x} x2={x} y1={y1} y2={y1 - l} />
            <line x1={x} x2={x} y1={y0} y2={y0 + l} />
          </g>
        );
      })}
      {yt.map((t, i) => {
        const y = ys(t.v);
        const l = t.major ? 4.5 : 2.5;
        return (
          <g key={`yt${i}`} stroke="#222" strokeWidth={0.8}>
            <line x1={x0} x2={x0 + l} y1={y} y2={y} />
            <line x1={x1} x2={x1 - l} y1={y} y2={y} />
          </g>
        );
      })}
      <rect x={x0} y={y0} width={x1 - x0} height={y1 - y0} fill="none" stroke="#333" strokeWidth={1.1} />
      {spec.xl.map((v) => (
        <text key={`xl${v}`} x={xs(v)} y={y1 + 10} textAnchor="middle" fontFamily={SERIF} fontSize={8} fill="#111">
          {fmt(v)}
        </text>
      ))}
      {spec.yl.map((v) => (
        <text key={`yl${v}`} x={x0 - 4} y={ys(v) + 3} textAnchor="end" fontFamily={SERIF} fontSize={8} fill="#111">
          {fmt(v)}
        </text>
      ))}
      <text x={(x0 + x1) / 2} y={y1 + 20} textAnchor="middle" fontFamily={SERIF} fontSize={11} fill="#111">k</text>
      <YLabel kind={spec.ylab} x={spec.ylab === 'L' ? x0 - 27 : x0 - 21} y={(y0 + y1) / 2} />
      {spec.note && (
        <text x={x1 - 5} y={y0 + 15} textAnchor="end" fontFamily={SANS} fontSize={12} fill={LINE.red}>
          <tspan fontStyle="italic">{spec.note.slice(0, 1)}</tspan>
          {spec.note.slice(1)}
        </text>
      )}
    </g>
  );
}

export default function App() {
  return (
    <svg width={W} height={H} viewBox={`0 0 ${W} ${H}`} style={{ position: 'absolute', left: 0, top: 0, background: '#fff' }}>
      <defs>
        <linearGradient id="secGrad" x1="0" x2="1" y1="0" y2="0">
          <stop offset="0" stopColor="#e4e4e4" />
          <stop offset="1" stopColor="#efefef" />
        </linearGradient>
        <linearGradient id="secGradV" x1="0" x2="0" y1="0" y2="1">
          <stop offset="0" stopColor="#ffffff" stopOpacity={0} />
          <stop offset="1" stopColor="#ffffff" stopOpacity={0.35} />
        </linearGradient>
      </defs>
      <rect x={0} y={0} width={W} height={H} fill="#fff" />
      {colHeaders.map((h, i) => (
        <text key={h} x={COL_CENTER[i]} y={17} textAnchor="middle" fontFamily={SANS} fontWeight="bold" fontSize={13} fill="#222">
          {h}
        </text>
      ))}
      {SECTIONS.map((s, i) => (
        <g key={i}>
          <rect x={0} y={s[0]} width={26} height={s[1] - s[0]} fill="url(#secGrad)" />
          <rect x={0} y={s[0]} width={26} height={s[1] - s[0]} fill="url(#secGradV)" />
          <text transform={`translate(17,${(s[0] + s[1]) / 2}) rotate(-90)`} textAnchor="middle" fontFamily={SANS} fontWeight="bold" fontSize={13} fill="#222">
            {sectionLabels[i]}
          </text>
        </g>
      ))}
      {SPECIES_Y.map((y, i) => {
        const name = speciesLabels[i % 3];
        return (
          <text key={i} x={52} y={y} fontFamily={SANS} fontSize={12} fill="#222" fontStyle={name === 'C. elegans' ? 'italic' : 'normal'}>
            {name}
          </text>
        );
      })}
      {panels.map((row, r) =>
        row.map((spec, c) => (
          <Panel key={`${r}-${c}`} spec={spec} x0={COLS[c][0]} x1={COLS[c][1]} y0={ROWS[r][0]} y1={ROWS[r][1]} />
        ))
      )}
    </svg>
  );
}
